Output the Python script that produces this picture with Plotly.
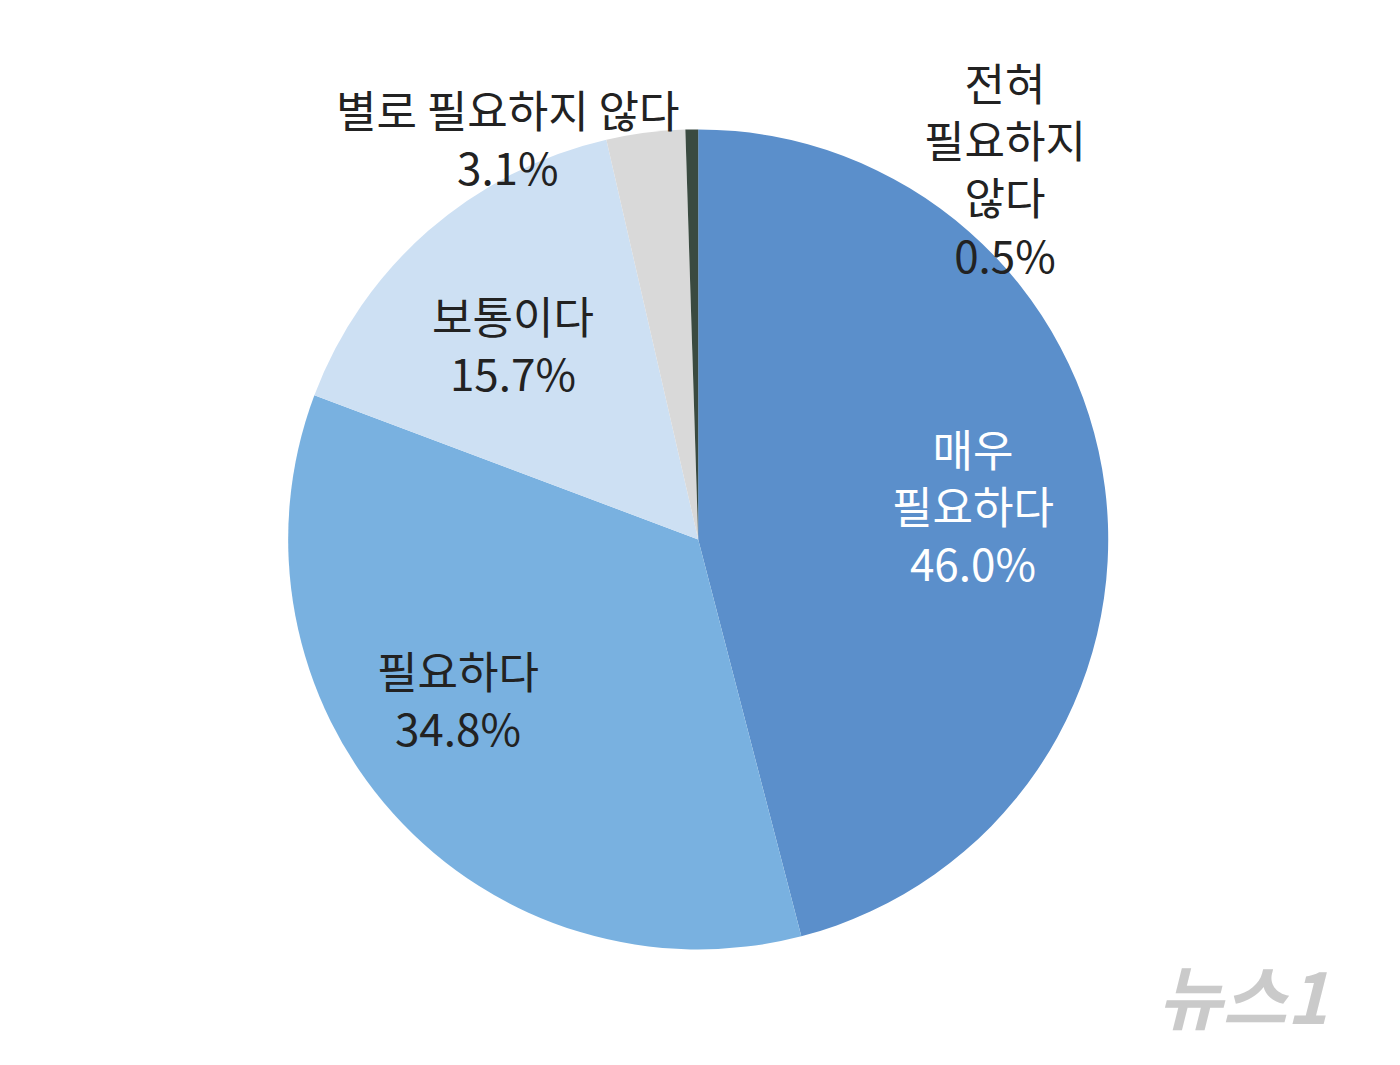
import plotly.graph_objects as go

labels = ["매우 필요하다", "필요하다", "보통이다", "별로 필요하지 않다", "전혀 필요하지 않다"]
values = [46.0, 34.8, 15.7, 3.1, 0.5]
colors = ["#5B8FCB", "#79B1E0", "#CDE0F3", "#D9D9D9", "#3A4A40"]
label_texts = ["매우<br>필요하다<br>46.0%", "필요하다<br>34.8%", "보통이다<br>15.7%",
               "별로 필요하지 않다<br>3.1%", "전혀<br>필요하지<br>않다<br>0.5%"]
label_pos = [(965, 497), (450, 690), (505, 335), (500, 130), (997, 160)]
label_colors = ["white", "#222", "#222", "#222", "#222"]

W, H = 1400, 1065
fig = go.Figure(go.Pie(
    labels=labels, values=values, sort=False, direction="clockwise", rotation=0,
    marker=dict(colors=colors, line=dict(width=0)), textinfo="none", hoverinfo="label+percent",
    domain=dict(x=[0.200, 0.786], y=[0.116, 0.886]), showlegend=False,
))
for t, (x, y), c in zip(label_texts, label_pos, label_colors):
    fig.add_annotation(x=x / W, y=1 - y / H, xref="paper", yref="paper", text=t, showarrow=False,
                       xanchor="center", yanchor="middle",
                       font=dict(family="Noto Sans CJK KR", size=44, color=c), align="center")
fig.add_annotation(x=1235 / W, y=1 - 985 / H, xref="paper", yref="paper", text="<b><i>뉴스1</i></b>",
                   xanchor="center", yanchor="middle", showarrow=False,
                   font=dict(family="Noto Sans CJK KR", size=70, color="rgba(180,180,180,0.7)"))
fig.update_layout(width=W, height=H, margin=dict(l=0, r=0, t=0, b=0),
                  paper_bgcolor="white", plot_bgcolor="white")
fig.write_html("out.html")
